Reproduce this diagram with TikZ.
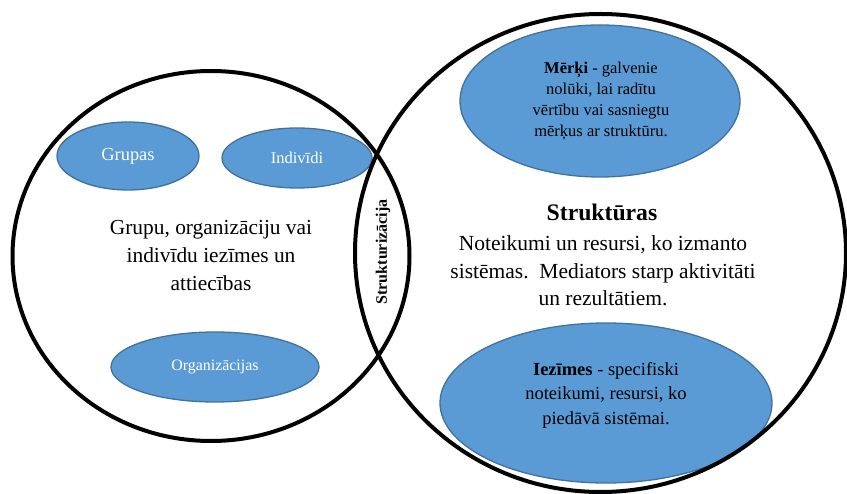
\documentclass[tikz,border=0pt]{standalone}
\usepackage{fontspec}
\setmainfont{Liberation Serif}
\usetikzlibrary{shapes.geometric}
\definecolor{bubblefill}{HTML}{5B9BD5}
\definecolor{bubbleedge}{HTML}{41719C}
\tikzset{
  bigring/.style={ellipse, draw=black, line width=4pt, inner sep=0pt},
  bubble/.style={ellipse, fill=bubblefill, draw=bubbleedge, line width=1.3pt, inner sep=0pt, align=center},
  plain/.style={inner sep=0pt, align=center},
}
\newcommand{\fs}[2]{\fontsize{#1}{#2}\selectfont}
\begin{document}
\begin{tikzpicture}[x=1pt, y=-1pt]
  \useasboundingbox (0,0) rectangle (847,494);

  % blue bubbles
  \node[bubble, minimum width=142pt, minimum height=68pt, text=white, font=\fs{18.4}{20}] (grupas) at (128,156) {Grupas};
  \node[bubble, minimum width=150pt, minimum height=60pt, text=white, font=\fs{16.5}{18}] (indiv) at (297,158) {Indivīdi};
  \node[bubble, minimum width=208pt, minimum height=70pt, text=white, font=\fs{15.9}{18}] (org) at (215,367) {Organizācijas};
  \node[bubble, minimum width=280pt, minimum height=152pt] (merki) at (600,101) {};
  \node[bubble, minimum width=332pt, minimum height=160pt] (iezimes) at (606,403) {};

  % the two large rings
  \node[bigring, minimum width=397pt, minimum height=370pt] (left) at (211,256) {};
  \node[bigring, minimum width=491pt, minimum height=478pt] (right) at (600.5,253) {};

  % texts
  \node[plain, font=\fs{21.4}{28}] (lefttext) at (211,256) {Grupu, organizāciju vai\\indivīdu iezīmes un\\attiecības};
  \node[plain, font=\fs{23.7}{26}\bfseries] (title) at (602,212) {Struktūras};
  \node[plain, font=\fs{21.5}{27.5}] (body) at (603,271) {Noteikumi un resursi, ko izmanto\\sistēmas.\ \ Mediators starp aktivitāti\\un rezultātiem.};
  \node[plain, font=\fs{16.5}{21.3}] (merkitext) at (601,101) {\textbf{Mērķi} - galvenie\\nolūki, lai radītu\\vērtību vai sasniegtu\\mērķus ar struktūru.};
  \node[plain, font=\fs{18.5}{24.5}] (iezimestext) at (606,395) {\textbf{Iezīmes} - specifiski\\noteikumi, resursi, ko\\piedāvā sistēmai.};
  \node[plain, rotate=90, font=\fs{16}{17}\bfseries] (strukt) at (383,252) {Strukturizācija};
\end{tikzpicture}
\end{document}
